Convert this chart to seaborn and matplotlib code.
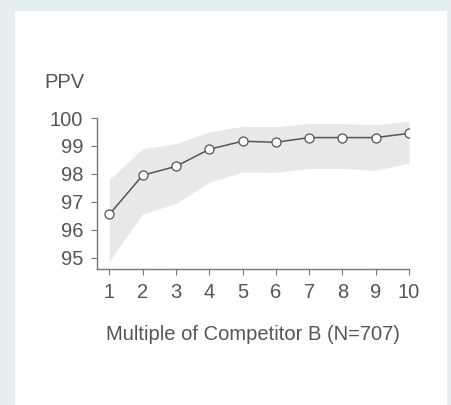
import numpy as np
import pandas as pd
import matplotlib
matplotlib.use("Agg")
import matplotlib.pyplot as plt
from matplotlib.patches import Rectangle
import seaborn as sns

# data
multiple = [1, 2, 3, 4, 5, 6, 7, 8, 9, 10]
ppv = [96.55, 97.95, 98.27, 98.88, 99.17, 99.13, 99.30, 99.30, 99.30, 99.45]
ppv_upper = [97.80, 98.90, 99.08, 99.50, 99.70, 99.69, 99.80, 99.80, 99.76, 99.89]
ppv_lower = [94.88, 96.57, 96.94, 97.70, 98.07, 98.06, 98.20, 98.20, 98.13, 98.39]

df = pd.DataFrame({"multiple": multiple, "ppv": ppv,
                   "lo": ppv_lower, "hi": ppv_upper})

sns.set_style("ticks")
plt.rcParams["font.family"] = ["Liberation Sans", "DejaVu Sans"]

text_col = "#555555"
axis_col = "#777777"
fs = 14.5

fig = plt.figure(figsize=(4.52, 4.05), dpi=100)
fig.patch.set_facecolor("#e5eff2")
fig.add_artist(Rectangle((15 / 452, 0), 432 / 452, 1 - 11 / 405,
                         transform=fig.transFigure, facecolor="white",
                         edgecolor="none", zorder=0))

ax = fig.add_axes([97 / 452, 136 / 405, 312 / 452, 151 / 405])
ax.set_facecolor("none")

ax.fill_between(df["multiple"], df["lo"], df["hi"], color="#e8e8e8",
                linewidth=0, zorder=1)
sns.lineplot(data=df, x="multiple", y="ppv", ax=ax, color="#555555",
             linewidth=1.1, marker="o", markersize=6.5,
             markerfacecolor="white", markeredgecolor="#555555",
             markeredgewidth=0.9, zorder=3)

ax.set_xlim(0.63, 10)
ax.set_ylim(94.6, 100)
ax.set_xticks(multiple)
ax.set_yticks([95, 96, 97, 98, 99, 100])

for s in ["top", "right"]:
    ax.spines[s].set_visible(False)
for s in ["left", "bottom"]:
    ax.spines[s].set_color(axis_col)
    ax.spines[s].set_linewidth(1.0)

ax.tick_params(axis="both", colors=axis_col, labelcolor=text_col,
               labelsize=fs, length=4, width=0.8)
ax.tick_params(axis="x", pad=6)
ax.tick_params(axis="y", pad=6)

ax.set_xlabel("Multiple of Competitor B (N=707)", fontsize=fs,
              color=text_col, labelpad=17)
ax.set_ylabel("")
fig.text(44 / 452, 1 - 83 / 405, "PPV", fontsize=fs, color=text_col,
         va="center", ha="left")

fig.savefig("out.png", dpi=100, facecolor=fig.get_facecolor())
